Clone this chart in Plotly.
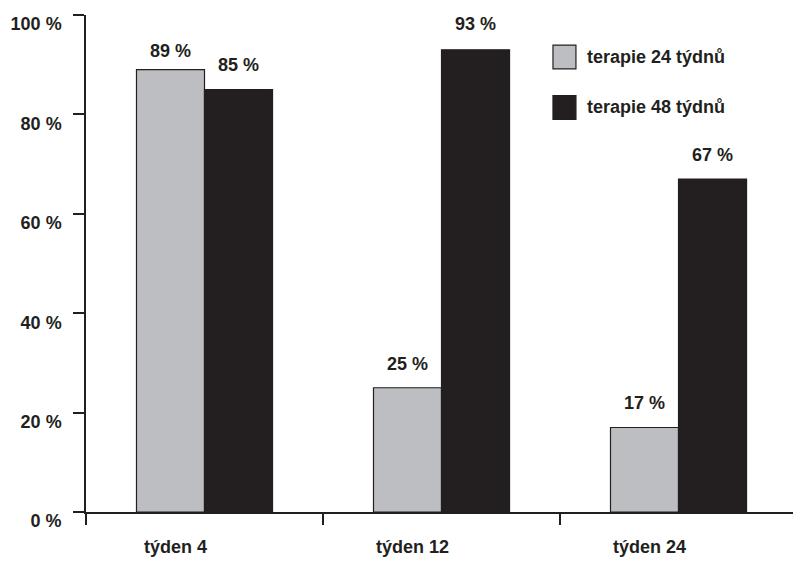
import plotly.graph_objects as go

categories = ["týden 4", "týden 12", "týden 24"]
series_names = ["terapie 24 týdnů", "terapie 48 týdnů"]
values_24 = [89, 25, 17]
values_48 = [85, 93, 67]
y_ticks = [0, 20, 40, 60, 80, 100]
y_tick_labels = ["0 %", "20 %", "40 %", "60 %", "80 %", "100 %"]

GRAY = "#bcbec1"
DARK = "#231f20"
FONT = "Liberation Sans, Arial, sans-serif"
FS = 18
W = 0.287

fig = go.Figure()
fig.add_trace(go.Bar(x=categories, y=values_24, name=series_names[0], width=W, offset=-W,
                     marker=dict(color=GRAY, line=dict(color=DARK, width=1.2)), showlegend=False))
fig.add_trace(go.Bar(x=categories, y=values_48, name=series_names[1], width=W, offset=0,
                     marker=dict(color=DARK, line=dict(color=DARK, width=1.2)), showlegend=False))

ann = []
shift_24 = [19, 24, 25]
shift_48 = [25, 26, 24]
for i, (a, b) in enumerate(zip(values_24, values_48)):
    ann.append(dict(x=i - W / 2, y=a, xref="x", yref="y", text=f"<b>{a} %</b>", showarrow=False,
                    yshift=shift_24[i], font=dict(size=FS, color=DARK, family=FONT)))
    ann.append(dict(x=i + W / 2, y=b, xref="x", yref="y", text=f"<b>{b} %</b>", showarrow=False,
                    yshift=shift_48[i], font=dict(size=FS, color=DARK, family=FONT)))

# custom legend
shapes = []
legend_y = [0.9155, 0.814]
for name, col, ly in zip(series_names, [GRAY, DARK], legend_y):
    shapes.append(dict(type="rect", xref="paper", yref="paper", x0=0.6605, x1=0.693,
                       y0=ly - 0.024, y1=ly + 0.024, fillcolor=col, line=dict(color=DARK, width=1.2)))
    ann.append(dict(x=0.7058, y=ly, xref="paper", yref="paper", text=f"<b>{name}</b>", showarrow=False,
                    xanchor="left", yanchor="middle", font=dict(size=FS, color=DARK, family=FONT)))

fig.update_layout(
    width=793, height=562,
    margin=dict(l=86, r=0, t=15, b=50),
    paper_bgcolor="white", plot_bgcolor="white",
    bargap=0.42, barmode="group",
    font=dict(family=FONT, size=FS, color=DARK),
    annotations=ann, shapes=shapes,
    xaxis=dict(type="category", range=[-0.5, 2.483], showline=True, linecolor=DARK, linewidth=1.5,
               ticks="outside", ticklen=11, tickcolor=DARK, tickwidth=1.5, tickson="boundaries",
               ticklabelshift=-29, ticklabelstandoff=18,
               tickfont=dict(size=FS, color=DARK, family=FONT), showgrid=False, zeroline=False),
    yaxis=dict(range=[0, 100], tickvals=y_ticks, ticktext=[f"<b>{t}</b>" for t in y_tick_labels],
               showline=True, linecolor=DARK, linewidth=1.5, ticks="outside", ticklen=11,
               tickcolor=DARK, tickwidth=1.5, ticklabelshift=9, ticklabelstandoff=8,
               tickfont=dict(size=FS, color=DARK, family=FONT), showgrid=False, zeroline=False),
)
fig.update_xaxes(ticktext=[f"<b>{c}</b>" for c in categories], tickvals=categories)

fig.write_html("out.html")
